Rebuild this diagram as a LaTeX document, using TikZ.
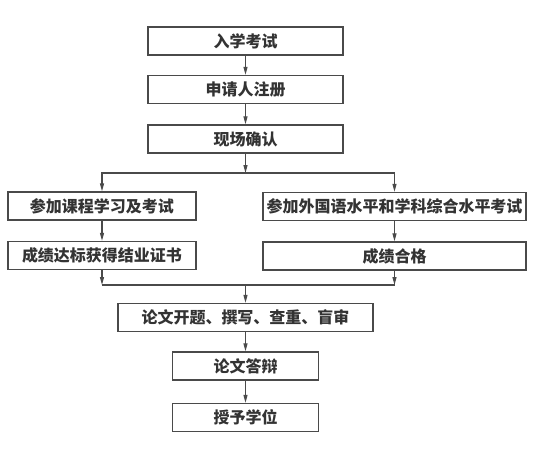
\documentclass[tikz,border=0pt]{standalone}
\usepackage{fontspec}
\newfontfamily\cjk{Noto Sans CJK SC}
\usetikzlibrary{arrows.meta}
\definecolor{xian}{HTML}{4A4A4A}
\tikzset{
 kuang/.style={draw=xian, line width=1.3pt, inner sep=0pt, minimum height=28pt,
  font=\cjk\bfseries\fontsize{16}{19}\selectfont, text=black!80},
 jiantou/.style={draw=xian, line width=1.1pt, -{Triangle[length=8pt,width=4pt]}},
 xianduan/.style={draw=xian, line width=1.1pt}
}

\begin{document}
\begin{tikzpicture}[x=1pt, y=-1pt]
 \useasboundingbox (0,0) rectangle (539,448);
 \node[kuang, minimum width=195pt] (ks) at (245.5,41) {入学考试};
 \node[kuang, minimum width=195pt] (zc) at (245.5,89.5) {申请人注册};
 \node[kuang, minimum width=195pt] (qr) at (245.5,139) {现场确认};
 \node[kuang, minimum width=188pt] (kc) at (102,206) {参加课程学习及考试};
 \node[kuang, minimum width=188pt] (jy) at (102,255.5) {成绩达标获得结业证书};
 \node[kuang, minimum width=263pt] (wy) at (394.5,206.5) {参加外国语水平和学科综合水平考试};
 \node[kuang, minimum width=263pt] (hg) at (394.5,256) {成绩合格};
 \node[kuang, minimum width=255pt] (lw) at (245.5,317.5) {论文开题、撰写、查重、盲审};
 \node[kuang, minimum width=146pt] (db) at (245.5,366) {论文答辩};
 \node[kuang, minimum width=146pt] (xw) at (245.5,417.5) {授予学位};
 \coordinate (fen) at (245.5,173);%分支点
 \coordinate (he) at (245.5,285);%汇合点

 \draw[jiantou] (ks) -- (zc);
 \draw[jiantou] (zc) -- (qr);
 \draw[jiantou] (qr) -- (fen);
 \draw[jiantou] (fen) -| (kc);
 \draw[jiantou] (fen) -| (wy);
 \draw[jiantou] (kc) -- (jy);
 \draw[jiantou] (wy) -- (hg);
 \draw[jiantou] (jy) -- (jy |- he);
 \draw[jiantou] (hg) -- (hg |- he);
 \draw[xianduan] (jy |- he) -- (hg |- he);
 \draw[jiantou] (he) -- (lw);
 \draw[jiantou] (lw) -- (db);
 \draw[jiantou] (db) -- (xw);
\end{tikzpicture}
\end{document}
